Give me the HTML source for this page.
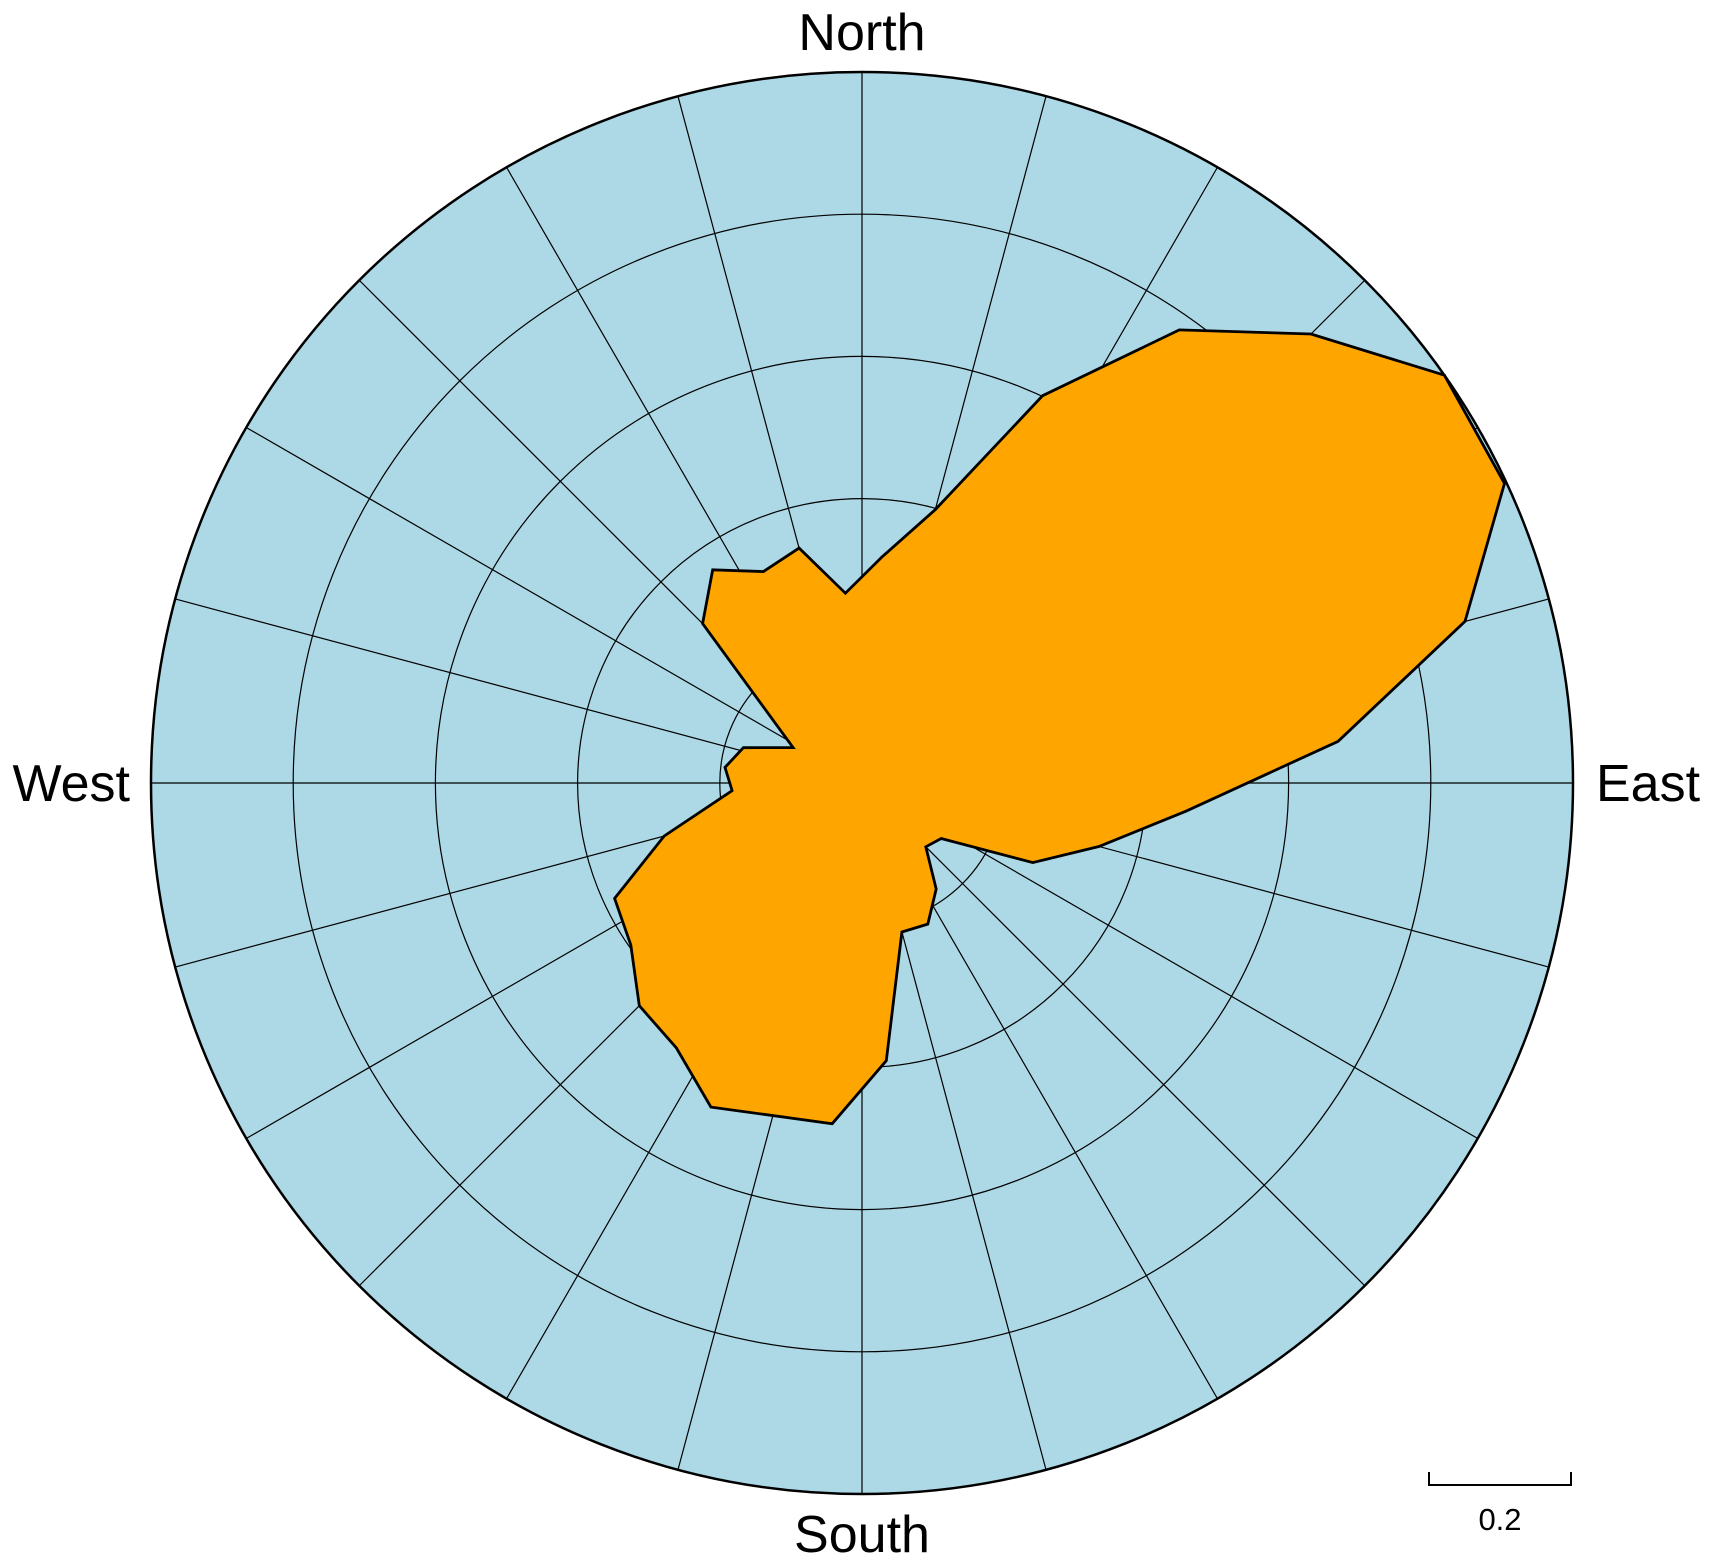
<!DOCTYPE html>
<html><head><meta charset="utf-8"><style>html,body{margin:0;padding:0;background:#fff}svg{display:block}</style></head>
<body>
<svg id="chart" width="1709" height="1561" viewBox="0 0 1709 1561" xmlns="http://www.w3.org/2000/svg" font-family="Liberation Sans, Arial, sans-serif">
<g id="grid"></g>
<g id="rose"></g>
<g id="frame"></g>
<text x="862" y="50" font-size="52" text-anchor="middle">North</text>
<text x="862" y="1552" font-size="52" text-anchor="middle">South</text>
<text x="130" y="801" font-size="52" text-anchor="end">West</text>
<text x="1596" y="801" font-size="52" text-anchor="start">East</text>
<g>
<path d="M1429 1472 V1485 H1571 V1472" fill="none" stroke="#000" stroke-width="2"/>
<text x="1500" y="1530" font-size="31" text-anchor="middle">0.2</text>
</g>
</svg>
<script>
const binAngles = [5,15,25,35,45,55,65,75,85,95,105,115,125,135,145,155,165,175,185,205,215,225,235,245,255,266.6,276.5,286.6,291.5,297.2,315,325,335,345,355];
const binValues = [0.319,0.398,0.601,0.778,0.893,1.0,0.997,0.878,0.672,0.457,0.345,0.265,0.136,0.127,0.182,0.219,0.217,0.392,0.481,0.503,0.455,0.443,0.397,0.384,0.288,0.183,0.194,0.174,0.136,0.109,0.317,0.366,0.328,0.342,0.268];
const ringValues = [0.2,0.4,0.6,0.8];
const spokeAngles = [0,15,30,45,60,75,90,105,120,135,150,165,180,195,210,225,240,255,270,285,300,315,330,345];
const rMax = 1.0;
const NS='http://www.w3.org/2000/svg';
const cx=862, cy=783, R=711;
function rScale(v){return v/rMax*R;}
function pt(theta,v){const a=theta*Math.PI/180, r=rScale(v);return [cx+r*Math.sin(a), cy-r*Math.cos(a)];}
function mk(tag,attrs,parent){const e=document.createElementNS(NS,tag);for(const k in attrs)e.setAttribute(k,attrs[k]);parent.appendChild(e);return e;}
const grid=document.getElementById('grid');
const bg=mk('circle',{cx:cx,cy:cy,r:R,fill:'#add8e6'},grid);


ringValues.forEach(v=>{
  const c=mk('circle',{cx:cx,cy:cy,r:rScale(v),fill:'none',stroke:'#000','stroke-width':1.2},grid);
  
  
});
spokeAngles.forEach(a=>{
  const p=pt(a,rMax);
  const l=mk('line',{x1:cx,y1:cy,x2:p[0],y2:p[1],stroke:'#000','stroke-width':1.2},grid);
  
  
});
const rose=document.getElementById('rose');
const pts=binAngles.map((a,i)=>pt(a,binValues[i]).map(n=>n.toFixed(1)).join(',')).join(' ');
const poly=mk('polygon',{points:pts,fill:'#ffa500',stroke:'#000','stroke-width':2.8,'stroke-linejoin':'miter'},rose);


const frame=document.getElementById('frame');
const oc=mk('circle',{cx:cx,cy:cy,r:R,fill:'none',stroke:'#000','stroke-width':2.5},frame);


</script>
</body></html>
